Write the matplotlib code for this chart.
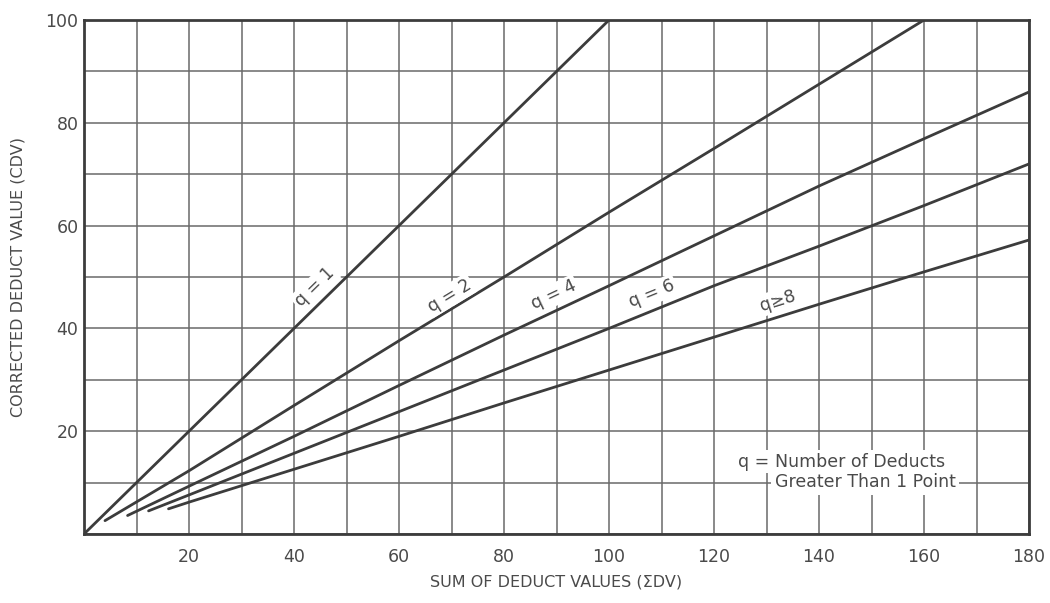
import numpy as np
import matplotlib
matplotlib.use("Agg")
import matplotlib.pyplot as plt

# ---- data (sum of deduct values -> corrected deduct value)
sdv_q1 = [0, 100]
cdv_q1 = [0, 100]

sdv_q2 = [4, 20, 40, 60, 80, 100, 120, 140, 160]
cdv_q2 = [2.6, 12.3, 25, 37.6, 50, 62.6, 75, 87.5, 100]

sdv_q4 = [8.3, 20, 40, 60, 80, 100, 120, 140, 160, 180]
cdv_q4 = [3.6, 9.3, 19, 28.9, 38.7, 48.3, 58, 67.7, 76.9, 86]

sdv_q6 = [12.3, 20, 40, 60, 80, 100, 120, 140, 160, 180]
cdv_q6 = [4.5, 7.6, 15.7, 23.8, 31.9, 40, 48.3, 56.0, 63.9, 72]

sdv_q8 = [16.1, 20, 40, 60, 80, 100, 120, 140, 160, 180]
cdv_q8 = [4.9, 6.2, 12.6, 19.0, 25.5, 31.9, 38.3, 44.7, 51.0, 57.2]

curve_labels = ["q = 1", "q = 2", "q = 4", "q = 6", "q≥8"]
label_x = [44.0, 69.6, 89.4, 108.1, 132.2]
label_y = [48.0, 46.4, 46.5, 46.8, 45.4]

x_ticks = [20, 40, 60, 80, 100, 120, 140, 160, 180]
y_ticks = [20, 40, 60, 80, 100]

ink = "#3c3c3c"
grid_c = "#6a6a6a"
text_c = "#4a4a4a"

fig = plt.figure(figsize=(10.5, 6.03), dpi=100)
ax = fig.add_axes([0.080, 0.1144, 0.900, 0.8524])

ax.set_xlim(0, 180)
ax.set_ylim(0, 100)
ax.set_xticks(np.arange(0, 181, 10))
ax.set_yticks(np.arange(0, 101, 10))
ax.grid(True, color=grid_c, lw=1.1, zorder=0)
ax.set_axisbelow(True)
ax.set_xticklabels([str(v) if v in x_ticks else "" for v in range(0, 181, 10)])
ax.set_yticklabels([str(v) if v in y_ticks else "" for v in range(0, 101, 10)])
ax.tick_params(length=0, labelsize=12.5, labelcolor=text_c)
ax.tick_params(axis="x", pad=10)
ax.tick_params(axis="y", pad=4)
for s in ax.spines.values():
    s.set_linewidth(2.0)
    s.set_color(ink)

curves = [(sdv_q1, cdv_q1), (sdv_q2, cdv_q2), (sdv_q4, cdv_q4),
          (sdv_q6, cdv_q6), (sdv_q8, cdv_q8)]
for (xs, ys), lab, lx, ly in zip(curves, curve_labels, label_x, label_y):
    ax.plot(xs, ys, color=ink, lw=2.0, solid_capstyle="round", zorder=3)
    slope = np.interp(lx + 5, xs, ys) - np.interp(lx - 5, xs, ys)
    ang = np.degrees(np.arctan2(slope, 10))
    ax.text(lx, ly, lab, ha="center", va="center", fontsize=12.5,
            color=text_c, rotation=ang, transform_rotates_text=True,
            rotation_mode="anchor", zorder=4,
            bbox=dict(fc="white", ec="none", pad=1.5))

# note box in the lower right
ax.text(130.6, 14.1, "q =", ha="right", va="center", fontsize=12.5,
        color=text_c, zorder=4, bbox=dict(fc="white", ec="none", pad=1.5))
ax.text(131.6, 12.05, "Number of Deducts\nGreater Than 1 Point", ha="left",
        va="center", fontsize=12.5, color=text_c, linespacing=1.15, zorder=4,
        bbox=dict(fc="white", ec="none", pad=2.5))

ax.set_xlabel("SUM OF DEDUCT VALUES (ΣDV)", fontsize=11.5, color=text_c,
              labelpad=6)
ax.set_ylabel("CORRECTED DEDUCT VALUE (CDV)", fontsize=11.5, color=text_c,
              labelpad=14)

fig.savefig("out.png", dpi=100)
